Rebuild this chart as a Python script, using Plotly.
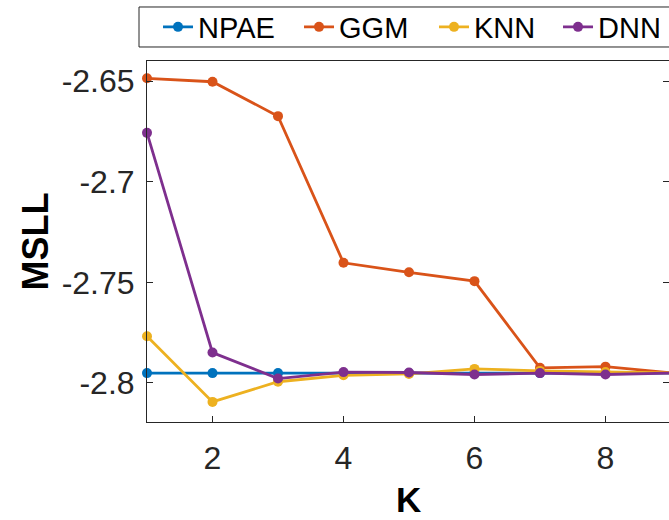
import plotly.graph_objects as go

K = [1, 2, 3, 4, 5, 6, 7, 8, 9]
npae = [-2.7951, -2.7951, -2.7951, -2.7951, -2.7951, -2.7951, -2.7951, -2.7951, -2.7951]
ggm = [-2.6486, -2.6503, -2.6674, -2.7403, -2.7450, -2.7494, -2.7925, -2.7919, -2.7950]
knn = [-2.7768, -2.8094, -2.7994, -2.7962, -2.7955, -2.7930, -2.7940, -2.7946, -2.7950]
dnn = [-2.6757, -2.7849, -2.7978, -2.7946, -2.7948, -2.7958, -2.7951, -2.7958, -2.7951]

names = ["NPAE", "GGM", "KNN", "DNN"]
series = [npae, ggm, knn, dnn]
colors = ["#0072BD", "#D95319", "#EDB120", "#7E2F8E"]
legend_widths = [96, 90, 79, 56]

x_ticks = [2, 4, 6, 8]
y_ticks = [-2.8, -2.75, -2.7, -2.65]
y_tick_text = ["-2.8", "-2.75", "-2.7", "-2.65"]
x_title = "K"
y_title = "MSLL"

fig = go.Figure()
for name, ys, c, lw in zip(names, series, colors, legend_widths):
    fig.add_trace(go.Scatter(
        x=K, y=ys, name=name, mode="lines+markers",
        line=dict(color=c, width=2.8),
        marker=dict(color=c, size=10),
        cliponaxis=False,
        legendwidth=lw,
    ))

axis_col = "#262626"

# legend frame (extends past the right edge, as in the reference)
fig.add_shape(type="rect", xref="paper", yref="paper",
              x0=-0.0153, x1=1.1, y0=1.0388, y1=1.1496,
              line=dict(color=axis_col, width=1), fillcolor="white", layer="below")

fig.add_annotation(text="<b>" + x_title + "</b>", xref="paper", yref="paper",
                   x=0.5, y=0, xanchor="center", yanchor="top", yshift=-56,
                   showarrow=False, font=dict(size=35, color="black"))

fig.update_layout(
    width=669, height=520,
    margin=dict(l=147, r=0, t=61, b=98),
    paper_bgcolor="white", plot_bgcolor="white",
    font=dict(family="Arial, Liberation Sans, sans-serif", color=axis_col, size=30),
    showlegend=True,
    legend=dict(
        orientation="h", x=0.0211, xanchor="left", y=1.0942, yanchor="middle",
        borderwidth=0, bgcolor="rgba(0,0,0,0)",
        font=dict(size=29, color="black"),
        tracegroupgap=0,
    ),
    xaxis=dict(
        range=[1, 8.97], tickvals=x_ticks, ticktext=[str(v) for v in x_ticks],
        ticks="inside", ticklen=6, tickcolor=axis_col, tickwidth=1,
        showline=True, linecolor=axis_col, linewidth=1, mirror=True,
        showgrid=False, zeroline=False,
        tickfont=dict(size=32, color=axis_col),
        ticklabelstandoff=8,
    ),
    yaxis=dict(
        range=[-2.8194, -2.64], tickvals=y_ticks, ticktext=y_tick_text,
        ticks="inside", ticklen=6, tickcolor=axis_col, tickwidth=1,
        showline=True, linecolor=axis_col, linewidth=1, mirror=False,
        showgrid=False, zeroline=False,
        tickfont=dict(size=32, color=axis_col),
        ticklabelstandoff=5,
        title=dict(text="<b>" + y_title + "</b>", font=dict(size=36, color="black"), standoff=2),
    ),
    yaxis2=dict(
        overlaying="y", side="right", matches="y", anchor="x",
        tickvals=y_ticks, ticks="inside", ticklen=6, tickcolor=axis_col,
        showticklabels=False, showline=False, showgrid=False, zeroline=False,
    ),
)
fig.add_trace(go.Scatter(x=[None], y=[None], yaxis="y2", showlegend=False, hoverinfo="skip"))

fig.write_html("out.html")
